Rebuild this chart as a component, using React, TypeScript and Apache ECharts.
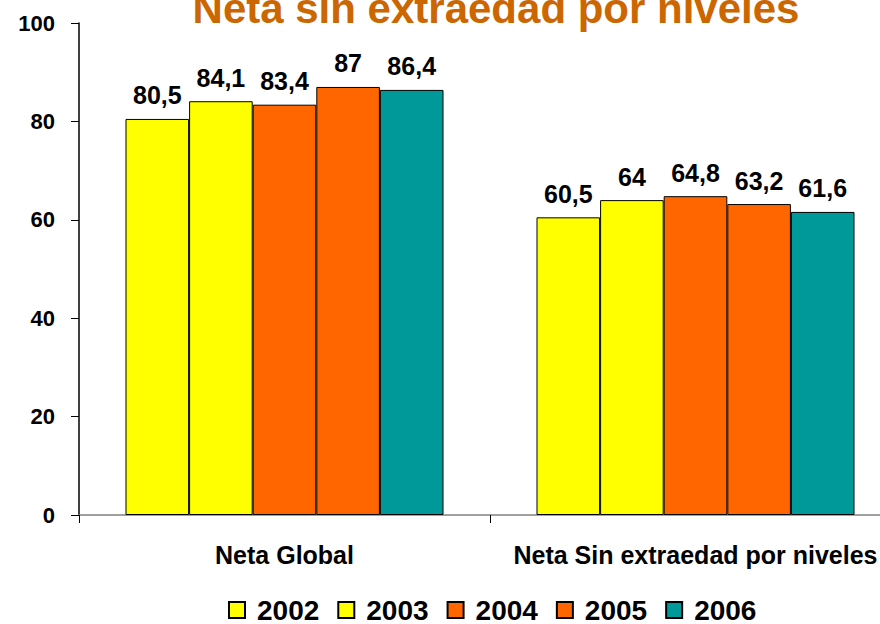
import React, { useEffect, useRef } from "react";
import * as echarts from "echarts";

const categories = ["Neta Global", "Neta Sin extraedad por niveles"];
const years = ["2002", "2003", "2004", "2005", "2006"];
const values2002 = [80.5, 60.5];
const values2003 = [84.1, 64];
const values2004 = [83.4, 64.8];
const values2005 = [87, 63.2];
const values2006 = [86.4, 61.6];
const seriesValues = [values2002, values2003, values2004, values2005, values2006];
const colors = ["#FFFF00", "#FFFF00", "#FF6600", "#FF6600", "#009999"];
const yTicks = { min: 0, max: 100, interval: 20 };
const titleText = "Neta sin extraedad por niveles";

const FONT = "'Liberation Sans', Arial, sans-serif";

export default function App() {
  const ref = useRef<HTMLDivElement>(null);
  useEffect(() => {
    document.body.style.margin = "0";
    const chart = echarts.init(ref.current!, null, { renderer: "svg" });
    chart.setOption({
      animation: false,
      backgroundColor: "#ffffff",
      textStyle: { fontFamily: FONT },
      title: {
        text: titleText,
        left: 496,
        textAlign: "center",
        top: -13,
        padding: 0,
        textStyle: {
          fontFamily: FONT,
          fontSize: 42,
          fontWeight: "bold",
          color: "#CC6600",
          textShadowColor: "#a8a8a8",
          textShadowOffsetX: 2,
          textShadowOffsetY: 2,
          textShadowBlur: 0,
        },
      },
      legend: {
        bottom: 0,
        left: 228,
        padding: 0,
        itemWidth: 16,
        itemHeight: 16,
        itemGap: 18,
        icon: "rect",
        textStyle: { fontFamily: FONT, fontSize: 28, fontWeight: "bold", color: "#000", padding: [0, 0, 0, 7] },
        data: years,
      },
      grid: {
        left: 79,
        top: 23,
        width: 822,
        height: 492,
        containLabel: false,
        outerBoundsMode: "none",
      },
      xAxis: {
        type: "category",
        data: categories,
        axisLine: { lineStyle: { color: "#808080", width: 1.5 } },
        axisTick: { show: true, length: 8, lineStyle: { color: "#000" } },
        axisLabel: {
          interval: 0,
          hideOverlap: false,
          margin: 27,
          fontFamily: FONT,
          fontSize: 25,
          fontWeight: "bold",
          color: "#000",
        },
      },
      yAxis: {
        type: "value",
        min: yTicks.min,
        max: yTicks.max,
        interval: yTicks.interval,
        axisLine: { show: true, lineStyle: { color: "#000", width: 1.5 } },
        axisTick: { show: true, length: 8, lineStyle: { color: "#000" } },
        splitLine: { show: false },
        axisLabel: {
          margin: 24,
          fontFamily: FONT,
          fontSize: 22,
          fontWeight: "bold",
          color: "#000",
        },
      },
      series: years.map((y, i) => ({
        name: y,
        type: "bar",
        data: seriesValues[i],
        barWidth: 63.6,
        barGap: "0%",
        itemStyle: { color: colors[i], borderColor: "#000", borderWidth: 1 },
        label: {
          show: true,
          position: "top",
          distance: 11,
          fontFamily: FONT,
          fontSize: 25,
          fontWeight: "bold",
          color: "#000",
          formatter: (p: any) => String(p.value).replace(".", ","),
        },
      })),
    });
    return () => chart.dispose();
  }, []);
  return <div ref={ref} style={{ width: 880, height: 624 }} />;
}
